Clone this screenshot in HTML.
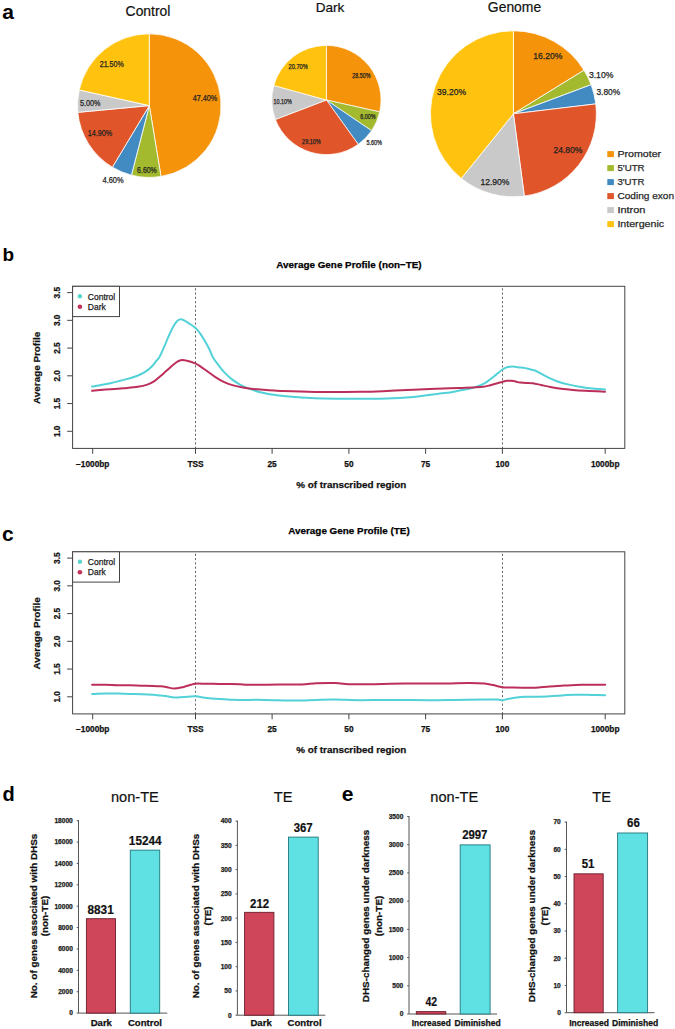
<!DOCTYPE html>
<html><head><meta charset="utf-8"><style>
html,body{margin:0;padding:0;background:#fff;overflow:hidden;width:675px;height:1029px;}
svg{display:block;}
text{font-family:"Liberation Sans", sans-serif;}
</style></head><body>
<svg width="675" height="1029" viewBox="0 0 675 1029" font-family='"Liberation Sans", sans-serif'>
<rect width="675" height="1029" fill="#fff"/>
<text x="2.3" y="18.8" font-size="21" font-weight="bold">a</text>
<text x="148" y="16" font-size="13.9" text-anchor="middle" fill="#111" stroke="#111" stroke-width="0.2">Control</text>
<text x="330" y="11.7" font-size="13.6" text-anchor="middle" fill="#111" stroke="#111" stroke-width="0.2">Dark</text>
<text x="514.5" y="11.7" font-size="13.9" text-anchor="middle" fill="#111" stroke="#111" stroke-width="0.2">Genome</text>
<path d="M149.3,105.6 L149.30,33.80 A71.8,71.8 0 0 1 160.98,176.44 Z" fill="#F5930A" stroke="#fff" stroke-width="0.8" stroke-linejoin="round"/>
<path d="M149.3,105.6 L160.98,176.44 A71.8,71.8 0 0 1 131.44,175.14 Z" fill="#A3B92E" stroke="#fff" stroke-width="0.8" stroke-linejoin="round"/>
<path d="M149.3,105.6 L131.44,175.14 A71.8,71.8 0 0 1 112.36,167.17 Z" fill="#418BC2" stroke="#fff" stroke-width="0.8" stroke-linejoin="round"/>
<path d="M149.3,105.6 L112.36,167.17 A71.8,71.8 0 0 1 77.82,112.36 Z" fill="#E05529" stroke="#fff" stroke-width="0.8" stroke-linejoin="round"/>
<path d="M149.3,105.6 L77.82,112.36 A71.8,71.8 0 0 1 79.23,89.94 Z" fill="#C9C9C9" stroke="#fff" stroke-width="0.8" stroke-linejoin="round"/>
<path d="M149.3,105.6 L79.23,89.94 A71.8,71.8 0 0 1 149.30,33.80 Z" fill="#FFC20E" stroke="#fff" stroke-width="0.8" stroke-linejoin="round"/>
<path d="M326.4,100.0 L326.40,45.40 A54.6,54.6 0 0 1 379.69,111.91 Z" fill="#F5930A" stroke="#fff" stroke-width="0.7" stroke-linejoin="round"/>
<path d="M326.4,100.0 L379.69,111.91 A54.6,54.6 0 0 1 371.56,130.69 Z" fill="#A3B92E" stroke="#fff" stroke-width="0.7" stroke-linejoin="round"/>
<path d="M326.4,100.0 L371.56,130.69 A54.6,54.6 0 0 1 358.21,144.37 Z" fill="#418BC2" stroke="#fff" stroke-width="0.7" stroke-linejoin="round"/>
<path d="M326.4,100.0 L358.21,144.37 A54.6,54.6 0 0 1 275.39,119.46 Z" fill="#E05529" stroke="#fff" stroke-width="0.7" stroke-linejoin="round"/>
<path d="M326.4,100.0 L275.39,119.46 A54.6,54.6 0 0 1 273.78,85.43 Z" fill="#C9C9C9" stroke="#fff" stroke-width="0.7" stroke-linejoin="round"/>
<path d="M326.4,100.0 L273.78,85.43 A54.6,54.6 0 0 1 326.40,45.40 Z" fill="#FFC20E" stroke="#fff" stroke-width="0.7" stroke-linejoin="round"/>
<path d="M513.4,113.8 L513.40,30.80 A83.0,83.0 0 0 1 584.03,70.21 Z" fill="#F5930A" stroke="#fff" stroke-width="0.8" stroke-linejoin="round"/>
<path d="M513.4,113.8 L584.03,70.21 A83.0,83.0 0 0 1 591.13,84.71 Z" fill="#A3B92E" stroke="#fff" stroke-width="0.8" stroke-linejoin="round"/>
<path d="M513.4,113.8 L591.13,84.71 A83.0,83.0 0 0 1 595.81,103.91 Z" fill="#418BC2" stroke="#fff" stroke-width="0.8" stroke-linejoin="round"/>
<path d="M513.4,113.8 L595.81,103.91 A83.0,83.0 0 0 1 524.32,196.08 Z" fill="#E05529" stroke="#fff" stroke-width="0.8" stroke-linejoin="round"/>
<path d="M513.4,113.8 L524.32,196.08 A83.0,83.0 0 0 1 461.30,178.41 Z" fill="#C9C9C9" stroke="#fff" stroke-width="0.8" stroke-linejoin="round"/>
<path d="M513.4,113.8 L461.30,178.41 A83.0,83.0 0 0 1 513.40,30.80 Z" fill="#FFC20E" stroke="#fff" stroke-width="0.8" stroke-linejoin="round"/>
<text x="192.8" y="100.5" font-size="8.6" text-anchor="start" fill="#222" textLength="24.5" lengthAdjust="spacingAndGlyphs" stroke="#222" stroke-width="0.25">47.40%</text>
<text x="99.7" y="66.7" font-size="8.6" text-anchor="start" fill="#222" textLength="24.2" lengthAdjust="spacingAndGlyphs" stroke="#222" stroke-width="0.25">21.50%</text>
<text x="80.0" y="106.2" font-size="8.6" text-anchor="start" fill="#222" textLength="20.5" lengthAdjust="spacingAndGlyphs" stroke="#222" stroke-width="0.25">5.00%</text>
<text x="87.8" y="136.2" font-size="8.6" text-anchor="start" fill="#222" textLength="24.5" lengthAdjust="spacingAndGlyphs" stroke="#222" stroke-width="0.25">14.90%</text>
<text x="137.1" y="173.1" font-size="8.6" text-anchor="start" fill="#222" textLength="19.7" lengthAdjust="spacingAndGlyphs" stroke="#222" stroke-width="0.25">6.60%</text>
<text x="102.5" y="182.7" font-size="8.6" text-anchor="start" fill="#222" textLength="21.1" lengthAdjust="spacingAndGlyphs" stroke="#222" stroke-width="0.25">4.60%</text>
<text x="352.3" y="77.8" font-size="6.4" text-anchor="start" fill="#222" textLength="18.3" lengthAdjust="spacingAndGlyphs" stroke="#222" stroke-width="0.25">28.50%</text>
<text x="288.6" y="68.9" font-size="6.4" text-anchor="start" fill="#222" textLength="19.1" lengthAdjust="spacingAndGlyphs" stroke="#222" stroke-width="0.25">20.70%</text>
<text x="273.5" y="103.8" font-size="6.4" text-anchor="start" fill="#222" textLength="18.2" lengthAdjust="spacingAndGlyphs" stroke="#222" stroke-width="0.25">10.10%</text>
<text x="360.2" y="118.9" font-size="6.4" text-anchor="start" fill="#222" textLength="15.3" lengthAdjust="spacingAndGlyphs" stroke="#222" stroke-width="0.25">6.00%</text>
<text x="366.4" y="144.6" font-size="6.4" text-anchor="start" fill="#222" textLength="15.6" lengthAdjust="spacingAndGlyphs" stroke="#222" stroke-width="0.25">5.60%</text>
<text x="302.1" y="143.6" font-size="6.4" text-anchor="start" fill="#222" textLength="18.5" lengthAdjust="spacingAndGlyphs" stroke="#222" stroke-width="0.25">29.10%</text>
<text x="533.3" y="59.1" font-size="9.0" text-anchor="start" fill="#222" textLength="29.1" lengthAdjust="spacingAndGlyphs" stroke="#222" stroke-width="0.25">16.20%</text>
<text x="588.9" y="78.0" font-size="9.0" text-anchor="start" fill="#222" textLength="24.5" lengthAdjust="spacingAndGlyphs" stroke="#222" stroke-width="0.25">3.10%</text>
<text x="596.4" y="94.6" font-size="9.0" text-anchor="start" fill="#222" textLength="23.8" lengthAdjust="spacingAndGlyphs" stroke="#222" stroke-width="0.25">3.80%</text>
<text x="437.0" y="94.6" font-size="9.0" text-anchor="start" fill="#222" textLength="29.1" lengthAdjust="spacingAndGlyphs" stroke="#222" stroke-width="0.25">39.20%</text>
<text x="553.4" y="153.2" font-size="9.0" text-anchor="start" fill="#222" textLength="29.0" lengthAdjust="spacingAndGlyphs" stroke="#222" stroke-width="0.25">24.80%</text>
<text x="480.4" y="185.3" font-size="9.0" text-anchor="start" fill="#222" textLength="29.1" lengthAdjust="spacingAndGlyphs" stroke="#222" stroke-width="0.25">12.90%</text>
<rect x="607.3" y="151.1" width="6.6" height="6.0" fill="#F5930A"/>
<text x="617.4" y="157.2" font-size="9.2" text-anchor="start" fill="#2a2a2a" textLength="43.7" lengthAdjust="spacingAndGlyphs" stroke="#2a2a2a" stroke-width="0.25">Promoter</text>
<rect x="607.3" y="165.1" width="6.6" height="6.0" fill="#A3B92E"/>
<text x="617.4" y="171.2" font-size="9.2" text-anchor="start" fill="#2a2a2a" textLength="27.2" lengthAdjust="spacingAndGlyphs" stroke="#2a2a2a" stroke-width="0.25">5'UTR</text>
<rect x="607.3" y="179.1" width="6.6" height="6.0" fill="#418BC2"/>
<text x="617.4" y="185.2" font-size="9.2" text-anchor="start" fill="#2a2a2a" textLength="27.0" lengthAdjust="spacingAndGlyphs" stroke="#2a2a2a" stroke-width="0.25">3'UTR</text>
<rect x="607.3" y="193.1" width="6.6" height="6.0" fill="#E05529"/>
<text x="617.4" y="199.2" font-size="9.2" text-anchor="start" fill="#2a2a2a" textLength="56.7" lengthAdjust="spacingAndGlyphs" stroke="#2a2a2a" stroke-width="0.25">Coding exon</text>
<rect x="607.3" y="207.1" width="6.6" height="6.0" fill="#C9C9C9"/>
<text x="617.4" y="213.2" font-size="9.2" text-anchor="start" fill="#2a2a2a" textLength="28.1" lengthAdjust="spacingAndGlyphs" stroke="#2a2a2a" stroke-width="0.25">Intron</text>
<rect x="607.3" y="221.1" width="6.6" height="6.0" fill="#FFC20E"/>
<text x="617.4" y="227.2" font-size="9.2" text-anchor="start" fill="#2a2a2a" textLength="46.7" lengthAdjust="spacingAndGlyphs" stroke="#2a2a2a" stroke-width="0.25">Intergenic</text>
<text x="2.6" y="261.4" font-size="19" font-weight="bold">b</text>
<text x="2.0" y="541.3" font-size="21" font-weight="bold">c</text>
<text x="349.0" y="268.4" font-size="9.9" font-weight="bold" text-anchor="middle" fill="#000" stroke="#000" stroke-width="0.25">Average Gene Profile (non−TE)</text>
<line x1="195.5" y1="286.3" x2="195.5" y2="448.4" stroke="#666" stroke-width="1" stroke-dasharray="2.1,2.18" stroke-dashoffset="2.33"/>
<line x1="502.5" y1="286.3" x2="502.5" y2="448.4" stroke="#666" stroke-width="1" stroke-dasharray="2.1,2.18" stroke-dashoffset="2.33"/>
<path d="M92.10,386.60 C93.40,386.37 96.63,385.82 99.90,385.20 C103.17,384.58 107.75,383.78 111.70,382.90 C115.65,382.02 120.05,380.83 123.60,379.90 C127.15,378.97 130.05,378.28 133.00,377.30 C135.95,376.32 138.92,375.15 141.30,374.00 C143.68,372.85 145.52,371.68 147.30,370.40 C149.08,369.12 150.52,367.87 152.00,366.30 C153.48,364.73 154.93,362.58 156.20,361.00 C157.47,359.42 158.43,358.78 159.60,356.80 C160.77,354.82 162.02,351.77 163.20,349.10 C164.38,346.43 165.52,343.57 166.70,340.80 C167.88,338.03 169.10,335.07 170.30,332.50 C171.50,329.93 172.72,327.37 173.90,325.40 C175.08,323.43 176.22,321.73 177.40,320.70 C178.58,319.67 179.82,319.20 181.00,319.20 C182.18,319.20 183.12,319.97 184.50,320.70 C185.88,321.43 187.52,322.42 189.30,323.60 C191.08,324.78 193.43,326.22 195.20,327.80 C196.97,329.38 198.32,330.93 199.90,333.10 C201.48,335.27 203.18,338.23 204.70,340.80 C206.22,343.37 207.62,345.72 209.00,348.50 C210.38,351.28 211.33,354.62 213.00,357.50 C214.67,360.38 217.02,363.23 219.00,365.80 C220.98,368.37 222.73,370.63 224.90,372.90 C227.07,375.17 229.43,377.42 232.00,379.40 C234.57,381.38 237.33,383.22 240.30,384.80 C243.27,386.38 246.25,387.62 249.80,388.90 C253.35,390.18 257.40,391.48 261.60,392.50 C265.80,393.52 269.43,394.25 275.00,395.00 C280.57,395.75 288.33,396.45 295.00,397.00 C301.67,397.55 307.22,398.02 315.00,398.30 C322.78,398.58 333.37,398.62 341.70,398.70 C350.03,398.78 357.50,398.82 365.00,398.80 C372.50,398.78 378.65,398.90 386.70,398.60 C394.75,398.30 406.63,397.55 413.30,397.00 C419.97,396.45 422.25,395.90 426.70,395.30 C431.15,394.70 436.12,393.88 440.00,393.40 C443.88,392.92 446.75,392.87 450.00,392.40 C453.25,391.93 456.33,391.20 459.50,390.60 C462.67,390.00 466.03,389.50 469.00,388.80 C471.97,388.10 474.73,387.30 477.30,386.40 C479.87,385.50 482.23,384.58 484.40,383.40 C486.57,382.22 488.33,380.77 490.30,379.30 C492.27,377.83 494.23,376.18 496.20,374.60 C498.17,373.02 500.32,371.03 502.10,369.80 C503.88,368.57 505.12,367.73 506.90,367.20 C508.68,366.67 510.83,366.57 512.80,366.60 C514.77,366.63 516.92,367.20 518.70,367.40 C520.48,367.60 521.62,367.48 523.50,367.80 C525.38,368.12 528.08,368.85 530.00,369.30 C531.92,369.75 533.17,369.77 535.00,370.50 C536.83,371.23 538.67,372.47 541.00,373.70 C543.33,374.93 546.12,376.57 549.00,377.90 C551.88,379.23 554.97,380.58 558.30,381.70 C561.63,382.82 565.22,383.72 569.00,384.60 C572.78,385.48 577.00,386.33 581.00,387.00 C585.00,387.67 589.00,388.20 593.00,388.60 C597.00,389.00 603.00,389.27 605.00,389.40" fill="none" stroke="#52D2D8" stroke-width="2.0" stroke-linejoin="round" stroke-linecap="round"/>
<path d="M92.10,390.80 C94.38,390.60 100.55,390.03 105.80,389.60 C111.05,389.17 118.27,388.67 123.60,388.20 C128.93,387.73 133.85,387.40 137.80,386.80 C141.75,386.20 144.53,385.55 147.30,384.60 C150.07,383.65 152.23,382.48 154.40,381.10 C156.57,379.72 158.43,377.88 160.30,376.30 C162.17,374.72 163.73,373.27 165.60,371.60 C167.47,369.93 169.53,367.97 171.50,366.30 C173.47,364.63 175.63,362.65 177.40,361.60 C179.17,360.55 180.52,360.15 182.10,360.00 C183.68,359.85 184.72,360.15 186.90,360.70 C189.08,361.25 193.02,362.40 195.20,363.30 C197.38,364.20 198.02,364.80 200.00,366.10 C201.98,367.40 204.53,369.27 207.10,371.10 C209.67,372.93 212.63,375.32 215.40,377.10 C218.17,378.88 220.73,380.42 223.70,381.80 C226.67,383.18 230.03,384.45 233.20,385.40 C236.37,386.35 239.35,386.92 242.70,387.50 C246.05,388.08 249.35,388.47 253.30,388.90 C257.25,389.33 261.95,389.77 266.40,390.10 C270.85,390.43 271.90,390.60 280.00,390.90 C288.10,391.20 301.67,391.75 315.00,391.90 C328.33,392.05 348.05,391.95 360.00,391.80 C371.95,391.65 377.82,391.35 386.70,391.00 C395.58,390.65 402.75,390.15 413.30,389.70 C423.85,389.25 441.90,388.60 450.00,388.30 C458.10,388.00 457.95,388.05 461.90,387.90 C465.85,387.75 470.15,387.58 473.70,387.40 C477.25,387.22 480.43,387.17 483.20,386.80 C485.97,386.43 487.93,385.80 490.30,385.20 C492.67,384.60 495.43,383.73 497.40,383.20 C499.37,382.67 500.52,382.40 502.10,382.00 C503.68,381.60 505.32,381.00 506.90,380.80 C508.48,380.60 510.02,380.65 511.60,380.80 C513.18,380.95 515.02,381.40 516.40,381.70 C517.78,382.00 518.32,382.40 519.90,382.60 C521.48,382.80 523.72,382.78 525.90,382.90 C528.08,383.02 530.48,382.95 533.00,383.30 C535.52,383.65 538.12,384.38 541.00,385.00 C543.88,385.62 546.97,386.38 550.30,387.00 C553.63,387.62 557.22,388.22 561.00,388.70 C564.78,389.18 569.00,389.57 573.00,389.90 C577.00,390.23 581.00,390.47 585.00,390.70 C589.00,390.93 593.67,391.13 597.00,391.30 C600.33,391.47 603.67,391.63 605.00,391.70" fill="none" stroke="#BC2F5A" stroke-width="2.0" stroke-linejoin="round" stroke-linecap="round"/>
<rect x="72.6" y="286.3" width="552.2" height="162.1" fill="none" stroke="#444" stroke-width="1"/>
<line x1="67.2" y1="292.60" x2="72.6" y2="292.60" stroke="#444" stroke-width="1"/>
<text x="59.8" y="292.6" font-size="8.3" font-weight="bold" text-anchor="middle" fill="#111" transform="rotate(-90 59.8 292.6)" stroke="#111" stroke-width="0.25">3.5</text>
<line x1="67.2" y1="320.34" x2="72.6" y2="320.34" stroke="#444" stroke-width="1"/>
<text x="59.8" y="320.34" font-size="8.3" font-weight="bold" text-anchor="middle" fill="#111" transform="rotate(-90 59.8 320.34)" stroke="#111" stroke-width="0.25">3.0</text>
<line x1="67.2" y1="348.08" x2="72.6" y2="348.08" stroke="#444" stroke-width="1"/>
<text x="59.8" y="348.08" font-size="8.3" font-weight="bold" text-anchor="middle" fill="#111" transform="rotate(-90 59.8 348.08)" stroke="#111" stroke-width="0.25">2.5</text>
<line x1="67.2" y1="375.82" x2="72.6" y2="375.82" stroke="#444" stroke-width="1"/>
<text x="59.8" y="375.82" font-size="8.3" font-weight="bold" text-anchor="middle" fill="#111" transform="rotate(-90 59.8 375.82)" stroke="#111" stroke-width="0.25">2.0</text>
<line x1="67.2" y1="403.56" x2="72.6" y2="403.56" stroke="#444" stroke-width="1"/>
<text x="59.8" y="403.56" font-size="8.3" font-weight="bold" text-anchor="middle" fill="#111" transform="rotate(-90 59.8 403.56)" stroke="#111" stroke-width="0.25">1.5</text>
<line x1="67.2" y1="431.30" x2="72.6" y2="431.30" stroke="#444" stroke-width="1"/>
<text x="59.8" y="431.3" font-size="8.3" font-weight="bold" text-anchor="middle" fill="#111" transform="rotate(-90 59.8 431.3)" stroke="#111" stroke-width="0.25">1.0</text>
<text x="39.6" y="367.9" font-size="9.9" font-weight="bold" text-anchor="middle" fill="#111" transform="rotate(-90 39.6 367.9)" stroke="#111" stroke-width="0.25">Average Profile</text>
<line x1="92.7" y1="448.4" x2="92.7" y2="453.8" stroke="#444" stroke-width="1"/>
<text x="92.7" y="466.7" font-size="8.3" font-weight="bold" text-anchor="middle" fill="#111" stroke="#111" stroke-width="0.25">−1000bp</text>
<line x1="195.5" y1="448.4" x2="195.5" y2="453.8" stroke="#444" stroke-width="1"/>
<text x="195.5" y="466.7" font-size="8.3" font-weight="bold" text-anchor="middle" fill="#111" stroke="#111" stroke-width="0.25">TSS</text>
<line x1="272.1" y1="448.4" x2="272.1" y2="453.8" stroke="#444" stroke-width="1"/>
<text x="272.1" y="466.7" font-size="8.3" font-weight="bold" text-anchor="middle" fill="#111" stroke="#111" stroke-width="0.25">25</text>
<line x1="348.9" y1="448.4" x2="348.9" y2="453.8" stroke="#444" stroke-width="1"/>
<text x="348.9" y="466.7" font-size="8.3" font-weight="bold" text-anchor="middle" fill="#111" stroke="#111" stroke-width="0.25">50</text>
<line x1="425.6" y1="448.4" x2="425.6" y2="453.8" stroke="#444" stroke-width="1"/>
<text x="425.6" y="466.7" font-size="8.3" font-weight="bold" text-anchor="middle" fill="#111" stroke="#111" stroke-width="0.25">75</text>
<line x1="502.4" y1="448.4" x2="502.4" y2="453.8" stroke="#444" stroke-width="1"/>
<text x="502.4" y="466.7" font-size="8.3" font-weight="bold" text-anchor="middle" fill="#111" stroke="#111" stroke-width="0.25">100</text>
<line x1="605.2" y1="448.4" x2="605.2" y2="453.8" stroke="#444" stroke-width="1"/>
<text x="605.2" y="466.7" font-size="8.3" font-weight="bold" text-anchor="middle" fill="#111" stroke="#111" stroke-width="0.25">1000bp</text>
<text x="351.3" y="487.8" font-size="9.85" font-weight="bold" text-anchor="middle" fill="#111" stroke="#111" stroke-width="0.25">% of transcribed region</text>
<rect x="72.6" y="286.3" width="46.9" height="30.3" fill="#fff" stroke="#444" stroke-width="1"/>
<circle cx="79.9" cy="296.3" r="2.2" fill="#5AD5CB"/>
<circle cx="79.9" cy="306.7" r="2.3" fill="#C5305A"/>
<text x="87.8" y="299.7" font-size="8.5" text-anchor="start" fill="#222" stroke="#222" stroke-width="0.25">Control</text>
<text x="87.8" y="309.9" font-size="8.5" text-anchor="start" fill="#222" stroke="#222" stroke-width="0.25">Dark</text>
<text x="349.0" y="533.9" font-size="9.9" font-weight="bold" text-anchor="middle" fill="#000" stroke="#000" stroke-width="0.25">Average Gene Profile (TE)</text>
<line x1="195.5" y1="551.8" x2="195.5" y2="713.9" stroke="#666" stroke-width="1" stroke-dasharray="2.1,2.18" stroke-dashoffset="2.33"/>
<line x1="502.5" y1="551.8" x2="502.5" y2="713.9" stroke="#666" stroke-width="1" stroke-dasharray="2.1,2.18" stroke-dashoffset="2.33"/>
<path d="M92.10,694.00 C94.38,693.93 101.55,693.67 105.80,693.60 C110.05,693.53 113.65,693.53 117.60,693.60 C121.55,693.67 125.55,693.90 129.50,694.00 C133.45,694.10 137.35,694.07 141.30,694.20 C145.25,694.33 150.08,694.57 153.20,694.80 C156.32,695.03 157.68,695.35 160.00,695.60 C162.32,695.85 164.73,695.98 167.10,696.30 C169.47,696.62 171.43,697.38 174.20,697.50 C176.97,697.62 180.20,697.20 183.70,697.00 C187.20,696.80 191.65,696.17 195.20,696.30 C198.75,696.43 200.98,697.33 205.00,697.80 C209.02,698.27 214.95,698.78 219.30,699.10 C223.65,699.42 227.65,699.57 231.10,699.70 C234.55,699.83 234.42,699.87 240.00,699.90 C245.58,699.93 255.55,699.80 264.60,699.90 C273.65,700.00 285.65,700.50 294.30,700.50 C302.95,700.50 309.72,700.05 316.50,699.90 C323.28,699.75 327.82,699.55 335.00,699.60 C342.18,699.65 350.55,700.15 359.60,700.20 C368.65,700.25 377.57,699.90 389.30,699.90 C401.03,699.90 419.12,700.20 430.00,700.20 C440.88,700.20 445.55,700.00 454.60,699.90 C463.65,699.80 477.13,699.65 484.30,699.60 C491.47,699.55 494.60,699.48 497.60,699.60 C500.60,699.72 500.57,700.42 502.30,700.30 C504.03,700.18 505.57,699.38 508.00,698.90 C510.43,698.42 514.07,697.75 516.90,697.40 C519.73,697.05 522.02,696.92 525.00,696.80 C527.98,696.68 530.70,696.80 534.80,696.70 C538.90,696.60 544.67,696.45 549.60,696.20 C554.53,695.95 559.95,695.45 564.40,695.20 C568.85,694.95 571.85,694.75 576.30,694.70 C580.75,694.65 586.28,694.82 591.10,694.90 C595.92,694.98 602.85,695.15 605.20,695.20" fill="none" stroke="#52D2D8" stroke-width="2.0" stroke-linejoin="round" stroke-linecap="round"/>
<path d="M92.10,684.70 C94.38,684.72 101.55,684.72 105.80,684.80 C110.05,684.88 113.65,685.12 117.60,685.20 C121.55,685.28 125.55,685.22 129.50,685.30 C133.45,685.38 137.35,685.58 141.30,685.70 C145.25,685.82 150.08,685.90 153.20,686.00 C156.32,686.10 157.88,686.15 160.00,686.30 C162.12,686.45 163.53,686.52 165.90,686.90 C168.27,687.28 171.23,688.60 174.20,688.60 C177.17,688.60 180.93,687.53 183.70,686.90 C186.47,686.27 188.88,685.33 190.80,684.80 C192.72,684.27 192.83,683.88 195.20,683.70 C197.57,683.52 200.98,683.65 205.00,683.70 C209.02,683.75 214.95,683.95 219.30,684.00 C223.65,684.05 227.65,683.97 231.10,684.00 C234.55,684.03 236.88,684.07 240.00,684.20 C243.12,684.33 243.23,684.75 249.80,684.80 C256.37,684.85 270.75,684.55 279.40,684.50 C288.05,684.45 295.52,684.70 301.70,684.50 C307.88,684.30 310.95,683.53 316.50,683.30 C322.05,683.07 329.05,682.93 335.00,683.10 C340.95,683.27 345.63,684.12 352.20,684.30 C358.77,684.48 365.75,684.32 374.40,684.20 C383.05,684.08 394.83,683.73 404.10,683.60 C413.37,683.47 422.82,683.43 430.00,683.40 C437.18,683.37 440.63,683.47 447.20,683.40 C453.77,683.33 463.22,682.97 469.40,683.00 C475.58,683.03 480.35,683.25 484.30,683.60 C488.25,683.95 490.10,684.48 493.10,685.10 C496.10,685.72 498.83,686.88 502.30,687.30 C505.77,687.72 510.12,687.53 513.90,687.60 C517.68,687.67 521.52,687.67 525.00,687.70 C528.48,687.73 530.70,687.98 534.80,687.80 C538.90,687.62 544.67,686.97 549.60,686.60 C554.53,686.23 558.97,685.90 564.40,685.60 C569.83,685.30 575.40,684.93 582.20,684.80 C589.00,684.67 601.37,684.80 605.20,684.80" fill="none" stroke="#BC2F5A" stroke-width="2.0" stroke-linejoin="round" stroke-linecap="round"/>
<rect x="72.6" y="551.8" width="552.2" height="162.1" fill="none" stroke="#444" stroke-width="1"/>
<line x1="67.2" y1="558.10" x2="72.6" y2="558.10" stroke="#444" stroke-width="1"/>
<text x="59.8" y="558.1" font-size="8.3" font-weight="bold" text-anchor="middle" fill="#111" transform="rotate(-90 59.8 558.1)" stroke="#111" stroke-width="0.25">3.5</text>
<line x1="67.2" y1="585.84" x2="72.6" y2="585.84" stroke="#444" stroke-width="1"/>
<text x="59.8" y="585.84" font-size="8.3" font-weight="bold" text-anchor="middle" fill="#111" transform="rotate(-90 59.8 585.84)" stroke="#111" stroke-width="0.25">3.0</text>
<line x1="67.2" y1="613.58" x2="72.6" y2="613.58" stroke="#444" stroke-width="1"/>
<text x="59.8" y="613.58" font-size="8.3" font-weight="bold" text-anchor="middle" fill="#111" transform="rotate(-90 59.8 613.58)" stroke="#111" stroke-width="0.25">2.5</text>
<line x1="67.2" y1="641.32" x2="72.6" y2="641.32" stroke="#444" stroke-width="1"/>
<text x="59.8" y="641.32" font-size="8.3" font-weight="bold" text-anchor="middle" fill="#111" transform="rotate(-90 59.8 641.32)" stroke="#111" stroke-width="0.25">2.0</text>
<line x1="67.2" y1="669.06" x2="72.6" y2="669.06" stroke="#444" stroke-width="1"/>
<text x="59.8" y="669.06" font-size="8.3" font-weight="bold" text-anchor="middle" fill="#111" transform="rotate(-90 59.8 669.06)" stroke="#111" stroke-width="0.25">1.5</text>
<line x1="67.2" y1="696.80" x2="72.6" y2="696.80" stroke="#444" stroke-width="1"/>
<text x="59.8" y="696.8" font-size="8.3" font-weight="bold" text-anchor="middle" fill="#111" transform="rotate(-90 59.8 696.8)" stroke="#111" stroke-width="0.25">1.0</text>
<text x="39.6" y="633.4" font-size="9.9" font-weight="bold" text-anchor="middle" fill="#111" transform="rotate(-90 39.6 633.4)" stroke="#111" stroke-width="0.25">Average Profile</text>
<line x1="92.7" y1="713.9" x2="92.7" y2="719.3" stroke="#444" stroke-width="1"/>
<text x="92.7" y="732.2" font-size="8.3" font-weight="bold" text-anchor="middle" fill="#111" stroke="#111" stroke-width="0.25">−1000bp</text>
<line x1="195.5" y1="713.9" x2="195.5" y2="719.3" stroke="#444" stroke-width="1"/>
<text x="195.5" y="732.2" font-size="8.3" font-weight="bold" text-anchor="middle" fill="#111" stroke="#111" stroke-width="0.25">TSS</text>
<line x1="272.1" y1="713.9" x2="272.1" y2="719.3" stroke="#444" stroke-width="1"/>
<text x="272.1" y="732.2" font-size="8.3" font-weight="bold" text-anchor="middle" fill="#111" stroke="#111" stroke-width="0.25">25</text>
<line x1="348.9" y1="713.9" x2="348.9" y2="719.3" stroke="#444" stroke-width="1"/>
<text x="348.9" y="732.2" font-size="8.3" font-weight="bold" text-anchor="middle" fill="#111" stroke="#111" stroke-width="0.25">50</text>
<line x1="425.6" y1="713.9" x2="425.6" y2="719.3" stroke="#444" stroke-width="1"/>
<text x="425.6" y="732.2" font-size="8.3" font-weight="bold" text-anchor="middle" fill="#111" stroke="#111" stroke-width="0.25">75</text>
<line x1="502.4" y1="713.9" x2="502.4" y2="719.3" stroke="#444" stroke-width="1"/>
<text x="502.4" y="732.2" font-size="8.3" font-weight="bold" text-anchor="middle" fill="#111" stroke="#111" stroke-width="0.25">100</text>
<line x1="605.2" y1="713.9" x2="605.2" y2="719.3" stroke="#444" stroke-width="1"/>
<text x="605.2" y="732.2" font-size="8.3" font-weight="bold" text-anchor="middle" fill="#111" stroke="#111" stroke-width="0.25">1000bp</text>
<text x="351.3" y="753.3" font-size="9.85" font-weight="bold" text-anchor="middle" fill="#111" stroke="#111" stroke-width="0.25">% of transcribed region</text>
<rect x="72.6" y="551.8" width="46.9" height="30.3" fill="#fff" stroke="#444" stroke-width="1"/>
<circle cx="79.9" cy="561.8" r="2.2" fill="#5AD5CB"/>
<circle cx="79.9" cy="572.2" r="2.3" fill="#C5305A"/>
<text x="87.8" y="565.2" font-size="8.5" text-anchor="start" fill="#222" stroke="#222" stroke-width="0.25">Control</text>
<text x="87.8" y="575.4" font-size="8.5" text-anchor="start" fill="#222" stroke="#222" stroke-width="0.25">Dark</text>
<text x="2.6" y="800.8" font-size="20" font-weight="bold">d</text>
<text x="341.8" y="801.0" font-size="21" font-weight="bold">e</text>
<line x1="78.5" y1="820.2" x2="78.5" y2="1013.1" stroke="#555" stroke-width="1"/>
<line x1="78.5" y1="1013.1" x2="167.3" y2="1013.1" stroke="#555" stroke-width="1"/>
<line x1="76.7" y1="1013.10" x2="78.5" y2="1013.10" stroke="#555" stroke-width="1"/>
<text x="72.8" y="1015.45" font-size="6.6" font-weight="bold" text-anchor="end" fill="#222" stroke="#222" stroke-width="0.25">0</text>
<line x1="76.7" y1="991.72" x2="78.5" y2="991.72" stroke="#555" stroke-width="1"/>
<text x="72.8" y="994.07" font-size="6.6" font-weight="bold" text-anchor="end" fill="#222" stroke="#222" stroke-width="0.25">2000</text>
<line x1="76.7" y1="970.34" x2="78.5" y2="970.34" stroke="#555" stroke-width="1"/>
<text x="72.8" y="972.69" font-size="6.6" font-weight="bold" text-anchor="end" fill="#222" stroke="#222" stroke-width="0.25">4000</text>
<line x1="76.7" y1="948.97" x2="78.5" y2="948.97" stroke="#555" stroke-width="1"/>
<text x="72.8" y="951.32" font-size="6.6" font-weight="bold" text-anchor="end" fill="#222" stroke="#222" stroke-width="0.25">6000</text>
<line x1="76.7" y1="927.59" x2="78.5" y2="927.59" stroke="#555" stroke-width="1"/>
<text x="72.8" y="929.94" font-size="6.6" font-weight="bold" text-anchor="end" fill="#222" stroke="#222" stroke-width="0.25">8000</text>
<line x1="76.7" y1="906.21" x2="78.5" y2="906.21" stroke="#555" stroke-width="1"/>
<text x="72.8" y="908.56" font-size="6.6" font-weight="bold" text-anchor="end" fill="#222" stroke="#222" stroke-width="0.25">10000</text>
<line x1="76.7" y1="884.83" x2="78.5" y2="884.83" stroke="#555" stroke-width="1"/>
<text x="72.8" y="887.18" font-size="6.6" font-weight="bold" text-anchor="end" fill="#222" stroke="#222" stroke-width="0.25">12000</text>
<line x1="76.7" y1="863.46" x2="78.5" y2="863.46" stroke="#555" stroke-width="1"/>
<text x="72.8" y="865.81" font-size="6.6" font-weight="bold" text-anchor="end" fill="#222" stroke="#222" stroke-width="0.25">14000</text>
<line x1="76.7" y1="842.08" x2="78.5" y2="842.08" stroke="#555" stroke-width="1"/>
<text x="72.8" y="844.43" font-size="6.6" font-weight="bold" text-anchor="end" fill="#222" stroke="#222" stroke-width="0.25">16000</text>
<line x1="76.7" y1="820.70" x2="78.5" y2="820.70" stroke="#555" stroke-width="1"/>
<text x="72.8" y="823.05" font-size="6.6" font-weight="bold" text-anchor="end" fill="#222" stroke="#222" stroke-width="0.25">18000</text>
<rect x="86.4" y="918.71" width="29.1" height="94.39" fill="#CF4559" stroke="#6b1c2c" stroke-width="0.9"/>
<text x="100.6" y="913.6" font-size="12.2" font-weight="bold" text-anchor="middle" fill="#111" textLength="26.2" lengthAdjust="spacingAndGlyphs" stroke="#111" stroke-width="0.2">8831</text>
<rect x="130.3" y="850.16" width="29.4" height="162.94" fill="#5FE1E4" stroke="#21767c" stroke-width="0.9"/>
<text x="145.2" y="845.1" font-size="12.2" font-weight="bold" text-anchor="middle" fill="#111" textLength="32.7" lengthAdjust="spacingAndGlyphs" stroke="#111" stroke-width="0.2">15244</text>
<text x="134.9" y="801.8" font-size="14.6" text-anchor="middle" fill="#111" stroke="#111" stroke-width="0.2">non-TE</text>
<text x="36.8" y="916.0" font-size="9.9" font-weight="bold" text-anchor="middle" fill="#111" transform="rotate(-90 36.8 916.0)" stroke="#111" stroke-width="0.25">No. of genes associated with DHSs</text>
<text x="47.9" y="916.0" font-size="9.9" font-weight="bold" text-anchor="middle" fill="#111" transform="rotate(-90 47.9 916.0)" stroke="#111" stroke-width="0.25">(non-TE)</text>
<text x="101.3" y="1026.3" font-size="9.6" font-weight="bold" text-anchor="middle" fill="#111" stroke="#111" stroke-width="0.25">Dark</text>
<text x="145.0" y="1026.3" font-size="9.6" font-weight="bold" text-anchor="middle" fill="#111" stroke="#111" stroke-width="0.25">Control</text>
<line x1="237.4" y1="820.6" x2="237.4" y2="1015.2" stroke="#555" stroke-width="1"/>
<line x1="237.4" y1="1015.2" x2="325.3" y2="1015.2" stroke="#555" stroke-width="1"/>
<line x1="235.6" y1="1015.20" x2="237.4" y2="1015.20" stroke="#555" stroke-width="1"/>
<text x="231.7" y="1017.55" font-size="6.6" font-weight="bold" text-anchor="end" fill="#222" stroke="#222" stroke-width="0.25">0</text>
<line x1="235.6" y1="990.94" x2="237.4" y2="990.94" stroke="#555" stroke-width="1"/>
<text x="231.7" y="993.29" font-size="6.6" font-weight="bold" text-anchor="end" fill="#222" stroke="#222" stroke-width="0.25">50</text>
<line x1="235.6" y1="966.68" x2="237.4" y2="966.68" stroke="#555" stroke-width="1"/>
<text x="231.7" y="969.03" font-size="6.6" font-weight="bold" text-anchor="end" fill="#222" stroke="#222" stroke-width="0.25">100</text>
<line x1="235.6" y1="942.41" x2="237.4" y2="942.41" stroke="#555" stroke-width="1"/>
<text x="231.7" y="944.76" font-size="6.6" font-weight="bold" text-anchor="end" fill="#222" stroke="#222" stroke-width="0.25">150</text>
<line x1="235.6" y1="918.15" x2="237.4" y2="918.15" stroke="#555" stroke-width="1"/>
<text x="231.7" y="920.5" font-size="6.6" font-weight="bold" text-anchor="end" fill="#222" stroke="#222" stroke-width="0.25">200</text>
<line x1="235.6" y1="893.89" x2="237.4" y2="893.89" stroke="#555" stroke-width="1"/>
<text x="231.7" y="896.24" font-size="6.6" font-weight="bold" text-anchor="end" fill="#222" stroke="#222" stroke-width="0.25">250</text>
<line x1="235.6" y1="869.62" x2="237.4" y2="869.62" stroke="#555" stroke-width="1"/>
<text x="231.7" y="871.98" font-size="6.6" font-weight="bold" text-anchor="end" fill="#222" stroke="#222" stroke-width="0.25">300</text>
<line x1="235.6" y1="845.36" x2="237.4" y2="845.36" stroke="#555" stroke-width="1"/>
<text x="231.7" y="847.71" font-size="6.6" font-weight="bold" text-anchor="end" fill="#222" stroke="#222" stroke-width="0.25">350</text>
<line x1="235.6" y1="821.10" x2="237.4" y2="821.10" stroke="#555" stroke-width="1"/>
<text x="231.7" y="823.45" font-size="6.6" font-weight="bold" text-anchor="end" fill="#222" stroke="#222" stroke-width="0.25">400</text>
<rect x="244.6" y="912.33" width="29.3" height="102.87" fill="#CF4559" stroke="#6b1c2c" stroke-width="0.9"/>
<text x="259.6" y="907.5" font-size="12.2" font-weight="bold" text-anchor="middle" fill="#111" textLength="19.1" lengthAdjust="spacingAndGlyphs" stroke="#111" stroke-width="0.2">212</text>
<rect x="288.5" y="837.11" width="29.7" height="178.09" fill="#5FE1E4" stroke="#21767c" stroke-width="0.9"/>
<text x="303.2" y="832.0" font-size="12.2" font-weight="bold" text-anchor="middle" fill="#111" textLength="19.0" lengthAdjust="spacingAndGlyphs" stroke="#111" stroke-width="0.2">367</text>
<text x="283.1" y="801.8" font-size="14.6" text-anchor="middle" fill="#111" stroke="#111" stroke-width="0.2">TE</text>
<text x="198.6" y="916.0" font-size="9.9" font-weight="bold" text-anchor="middle" fill="#111" transform="rotate(-90 198.6 916.0)" stroke="#111" stroke-width="0.25">No. of genes associated with DHSs</text>
<text x="211.4" y="916.0" font-size="9.9" font-weight="bold" text-anchor="middle" fill="#111" transform="rotate(-90 211.4 916.0)" stroke="#111" stroke-width="0.25">(TE)</text>
<text x="261.1" y="1026.3" font-size="9.6" font-weight="bold" text-anchor="middle" fill="#111" stroke="#111" stroke-width="0.25">Dark</text>
<text x="304.6" y="1026.3" font-size="9.6" font-weight="bold" text-anchor="middle" fill="#111" stroke="#111" stroke-width="0.25">Control</text>
<line x1="409.0" y1="816.0" x2="409.0" y2="1014.0" stroke="#555" stroke-width="1"/>
<line x1="409.0" y1="1014.0" x2="497.0" y2="1014.0" stroke="#555" stroke-width="1"/>
<line x1="407.2" y1="1014.00" x2="409.0" y2="1014.00" stroke="#555" stroke-width="1"/>
<text x="403.3" y="1016.35" font-size="6.6" font-weight="bold" text-anchor="end" fill="#222" stroke="#222" stroke-width="0.25">0</text>
<line x1="407.2" y1="985.79" x2="409.0" y2="985.79" stroke="#555" stroke-width="1"/>
<text x="403.3" y="988.14" font-size="6.6" font-weight="bold" text-anchor="end" fill="#222" stroke="#222" stroke-width="0.25">500</text>
<line x1="407.2" y1="957.57" x2="409.0" y2="957.57" stroke="#555" stroke-width="1"/>
<text x="403.3" y="959.92" font-size="6.6" font-weight="bold" text-anchor="end" fill="#222" stroke="#222" stroke-width="0.25">1000</text>
<line x1="407.2" y1="929.36" x2="409.0" y2="929.36" stroke="#555" stroke-width="1"/>
<text x="403.3" y="931.71" font-size="6.6" font-weight="bold" text-anchor="end" fill="#222" stroke="#222" stroke-width="0.25">1500</text>
<line x1="407.2" y1="901.14" x2="409.0" y2="901.14" stroke="#555" stroke-width="1"/>
<text x="403.3" y="903.49" font-size="6.6" font-weight="bold" text-anchor="end" fill="#222" stroke="#222" stroke-width="0.25">2000</text>
<line x1="407.2" y1="872.93" x2="409.0" y2="872.93" stroke="#555" stroke-width="1"/>
<text x="403.3" y="875.28" font-size="6.6" font-weight="bold" text-anchor="end" fill="#222" stroke="#222" stroke-width="0.25">2500</text>
<line x1="407.2" y1="844.71" x2="409.0" y2="844.71" stroke="#555" stroke-width="1"/>
<text x="403.3" y="847.06" font-size="6.6" font-weight="bold" text-anchor="end" fill="#222" stroke="#222" stroke-width="0.25">3000</text>
<line x1="407.2" y1="816.50" x2="409.0" y2="816.50" stroke="#555" stroke-width="1"/>
<text x="403.3" y="818.85" font-size="6.6" font-weight="bold" text-anchor="end" fill="#222" stroke="#222" stroke-width="0.25">3500</text>
<rect x="416.3" y="1011.63" width="29.5" height="2.37" fill="#CF4559" stroke="#6b1c2c" stroke-width="0.9"/>
<text x="431.3" y="1006.2" font-size="12.2" font-weight="bold" text-anchor="middle" fill="#111" textLength="11.6" lengthAdjust="spacingAndGlyphs" stroke="#111" stroke-width="0.2">42</text>
<rect x="460.2" y="844.88" width="29.9" height="169.12" fill="#5FE1E4" stroke="#21767c" stroke-width="0.9"/>
<text x="474.8" y="839.2" font-size="12.2" font-weight="bold" text-anchor="middle" fill="#111" textLength="25.3" lengthAdjust="spacingAndGlyphs" stroke="#111" stroke-width="0.2">2997</text>
<text x="454.3" y="801.8" font-size="14.6" text-anchor="middle" fill="#111" stroke="#111" stroke-width="0.2">non-TE</text>
<text x="368.6" y="916.0" font-size="9.9" font-weight="bold" text-anchor="middle" fill="#111" transform="rotate(-90 368.6 916.0)" stroke="#111" stroke-width="0.25">DHS-changed genes under darkness</text>
<text x="382.3" y="916.0" font-size="9.9" font-weight="bold" text-anchor="middle" fill="#111" transform="rotate(-90 382.3 916.0)" stroke="#111" stroke-width="0.25">(non-TE)</text>
<text x="431.3" y="1026.3" font-size="8.4" font-weight="bold" text-anchor="middle" fill="#111" textLength="39.0" lengthAdjust="spacingAndGlyphs" stroke="#111" stroke-width="0.25">Increased</text>
<text x="477.6" y="1026.3" font-size="8.4" font-weight="bold" text-anchor="middle" fill="#111" textLength="46.1" lengthAdjust="spacingAndGlyphs" stroke="#111" stroke-width="0.25">Diminished</text>
<line x1="566.5" y1="821.6" x2="566.5" y2="1012.7" stroke="#555" stroke-width="1"/>
<line x1="566.5" y1="1012.7" x2="654.5" y2="1012.7" stroke="#555" stroke-width="1"/>
<line x1="564.7" y1="1012.70" x2="566.5" y2="1012.70" stroke="#555" stroke-width="1"/>
<text x="560.8" y="1015.05" font-size="6.6" font-weight="bold" text-anchor="end" fill="#222" stroke="#222" stroke-width="0.25">0</text>
<line x1="564.7" y1="985.47" x2="566.5" y2="985.47" stroke="#555" stroke-width="1"/>
<text x="560.8" y="987.82" font-size="6.6" font-weight="bold" text-anchor="end" fill="#222" stroke="#222" stroke-width="0.25">10</text>
<line x1="564.7" y1="958.24" x2="566.5" y2="958.24" stroke="#555" stroke-width="1"/>
<text x="560.8" y="960.59" font-size="6.6" font-weight="bold" text-anchor="end" fill="#222" stroke="#222" stroke-width="0.25">20</text>
<line x1="564.7" y1="931.01" x2="566.5" y2="931.01" stroke="#555" stroke-width="1"/>
<text x="560.8" y="933.36" font-size="6.6" font-weight="bold" text-anchor="end" fill="#222" stroke="#222" stroke-width="0.25">30</text>
<line x1="564.7" y1="903.79" x2="566.5" y2="903.79" stroke="#555" stroke-width="1"/>
<text x="560.8" y="906.14" font-size="6.6" font-weight="bold" text-anchor="end" fill="#222" stroke="#222" stroke-width="0.25">40</text>
<line x1="564.7" y1="876.56" x2="566.5" y2="876.56" stroke="#555" stroke-width="1"/>
<text x="560.8" y="878.91" font-size="6.6" font-weight="bold" text-anchor="end" fill="#222" stroke="#222" stroke-width="0.25">50</text>
<line x1="564.7" y1="849.33" x2="566.5" y2="849.33" stroke="#555" stroke-width="1"/>
<text x="560.8" y="851.68" font-size="6.6" font-weight="bold" text-anchor="end" fill="#222" stroke="#222" stroke-width="0.25">60</text>
<line x1="564.7" y1="822.10" x2="566.5" y2="822.10" stroke="#555" stroke-width="1"/>
<text x="560.8" y="824.45" font-size="6.6" font-weight="bold" text-anchor="end" fill="#222" stroke="#222" stroke-width="0.25">70</text>
<rect x="574.0" y="873.83" width="29.2" height="138.87" fill="#CF4559" stroke="#6b1c2c" stroke-width="0.9"/>
<text x="588.1" y="868.2" font-size="12.2" font-weight="bold" text-anchor="middle" fill="#111" textLength="12.8" lengthAdjust="spacingAndGlyphs" stroke="#111" stroke-width="0.2">51</text>
<rect x="617.6" y="832.99" width="30.0" height="179.71" fill="#5FE1E4" stroke="#21767c" stroke-width="0.9"/>
<text x="633.5" y="827.4" font-size="12.2" font-weight="bold" text-anchor="middle" fill="#111" textLength="12.8" lengthAdjust="spacingAndGlyphs" stroke="#111" stroke-width="0.2">66</text>
<text x="601.7" y="801.8" font-size="14.6" text-anchor="middle" fill="#111" stroke="#111" stroke-width="0.2">TE</text>
<text x="534.6" y="916.0" font-size="9.9" font-weight="bold" text-anchor="middle" fill="#111" transform="rotate(-90 534.6 916.0)" stroke="#111" stroke-width="0.25">DHS-changed genes under darkness</text>
<text x="547.8" y="916.0" font-size="9.9" font-weight="bold" text-anchor="middle" fill="#111" transform="rotate(-90 547.8 916.0)" stroke="#111" stroke-width="0.25">(TE)</text>
<text x="589.1" y="1026.3" font-size="8.4" font-weight="bold" text-anchor="middle" fill="#111" textLength="39.8" lengthAdjust="spacingAndGlyphs" stroke="#111" stroke-width="0.25">Increased</text>
<text x="635.1" y="1026.3" font-size="8.4" font-weight="bold" text-anchor="middle" fill="#111" textLength="46.2" lengthAdjust="spacingAndGlyphs" stroke="#111" stroke-width="0.25">Diminished</text>
</svg>
</body></html>
